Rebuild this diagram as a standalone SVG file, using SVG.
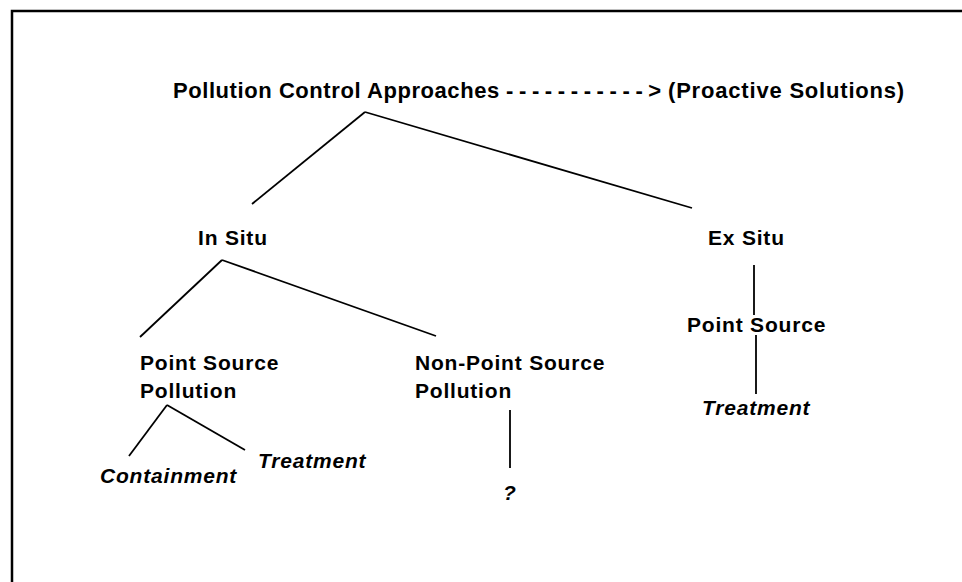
<svg xmlns="http://www.w3.org/2000/svg" width="962" height="582" viewBox="0 0 962 582">
<style>
  .t { font-family: "Liberation Sans", Arial, sans-serif; font-weight: bold; font-size: 21px; fill: #000; letter-spacing: 0.8px; }
  .i { font-style: italic; }
  .c line { stroke: #000; stroke-width: 1.8; }
  .frame { stroke: #000; stroke-width: 2.5; fill: none; }
</style>
<rect width="962" height="582" fill="#fff"/>
<path class="frame" d="M12 582 V11 H962"/>
<g id="title">
  <text class="t" x="173" y="98" style="font-size:22px" textLength="327" lengthAdjust="spacing">Pollution Control Approaches</text>
  <text class="t" x="506" y="98" style="font-size:22px" textLength="156" lengthAdjust="spacing">-----------&gt;</text>
</g>
<g id="proactive"><text class="t" x="668" y="98" style="font-size:22px" textLength="237" lengthAdjust="spacing">(Proactive Solutions)</text></g>
<g id="insitu"><text class="t" x="198" y="245">In Situ</text></g>
<g id="exsitu"><text class="t" x="708" y="245">Ex Situ</text></g>
<g id="ps-pollution"><text class="t" x="140" y="370">Point Source</text><text class="t" x="140" y="398">Pollution</text></g>
<g id="nps-pollution"><text class="t" x="415" y="370">Non-Point Source</text><text class="t" x="415" y="398">Pollution</text></g>
<g id="ex-point-source"><text class="t" x="687" y="332">Point Source</text></g>
<g id="ex-treatment"><text class="t i" x="702" y="415">Treatment</text></g>
<g id="containment"><text class="t i" x="100" y="483">Containment</text></g>
<g id="in-treatment"><text class="t i" x="258" y="468">Treatment</text></g>
<g id="unknown"><text class="t i" x="503" y="500">?</text></g>
<g class="c" id="connectors">
  <line x1="365" y1="112" x2="252" y2="204"/>
  <line x1="365" y1="112" x2="692" y2="208"/>
  <line x1="222" y1="260" x2="140" y2="337"/>
  <line x1="222" y1="260" x2="436" y2="336"/>
  <line x1="754" y1="265" x2="754" y2="315"/>
  <line x1="756" y1="335" x2="756" y2="394"/>
  <line x1="167" y1="405" x2="129" y2="456"/>
  <line x1="167" y1="405" x2="245" y2="450"/>
  <line x1="510" y1="410" x2="510" y2="468"/>
</g>
</svg>
